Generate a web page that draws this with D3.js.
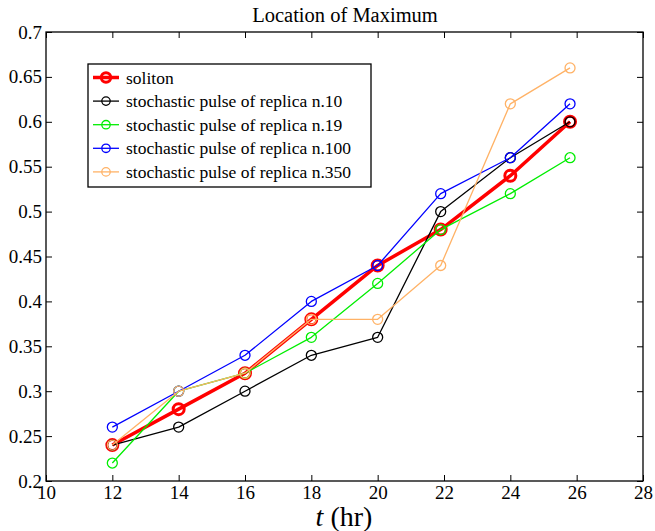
<!DOCTYPE html>
<html>
<head>
<meta charset="utf-8">
<script src="https://cdn.jsdelivr.net/npm/d3@7"></script>
<style>
  body { margin: 0; background: #fff; }
</style>
</head>
<body>
<div id="graph"></div>
<script>
// hours
const times = [12, 14, 16, 18, 20, 21.9, 24, 25.8];

const soliton   = [0.24, 0.28, 0.32, 0.38, 0.44, 0.48, 0.54, 0.60];
const replica10 = [0.24, 0.26, 0.30, 0.34, 0.36, 0.50, 0.56, 0.60];
const replica19 = [0.22, 0.30, 0.32, 0.36, 0.42, 0.48, 0.52, 0.56];
const replica100 = [0.26, 0.30, 0.34, 0.40, 0.44, 0.52, 0.56, 0.62];
const replica350 = [0.24, 0.30, 0.32, 0.38, 0.38, 0.44, 0.62, 0.66];

const seriesNames = ['soliton', 'stochastic pulse of replica n.10', 'stochastic pulse of replica n.19',
  'stochastic pulse of replica n.100', 'stochastic pulse of replica n.350'];
const xTicks = [10, 12, 14, 16, 18, 20, 22, 24, 26, 28];
const yTicks = [0.2, 0.25, 0.3, 0.35, 0.4, 0.45, 0.5, 0.55, 0.6, 0.65, 0.7];

const series = [
  {name: seriesNames[0], vals: soliton, color: '#ff0000', lw: 3.5, mw: 3, r: 5.5},
  {name: seriesNames[1], vals: replica10, color: '#000000', lw: 1.3, mw: 1.3, r: 5},
  {name: seriesNames[2], vals: replica19, color: '#00ee00', lw: 1.3, mw: 1.3, r: 5},
  {name: seriesNames[3], vals: replica100, color: '#0000ff', lw: 1.3, mw: 1.3, r: 5},
  {name: seriesNames[4], vals: replica350, color: '#ffb266', lw: 1.3, mw: 1.3, r: 5}
];

const FONT = '"Liberation Serif", "Times New Roman", serif';
const w = 655, h = 531;
const margin = {top: 32, right: 12, bottom: 50, left: 46};

const svg = d3.select('#graph').append('svg')
  .attr('width', w).attr('height', h)
  .style('font-family', FONT);

const xScale = d3.scaleLinear().domain([10, 28]).range([margin.left, w - margin.right]);
const yScale = d3.scaleLinear().domain([0.2, 0.7]).range([h - margin.bottom, margin.top]);

const fmt = d => String(+d.toFixed(2));

// axes, ticks pointing inward
svg.append('g').attr('transform', `translate(0,${h - margin.bottom})`)
  .call(d3.axisBottom(xScale).tickValues(xTicks).tickSizeInner(-6).tickSizeOuter(0).tickPadding(5))
  .call(g => g.select('.domain').remove())
  .selectAll('text').style('font-size', '19px').style('font-family', FONT).attr('fill', '#000');

svg.append('g').attr('transform', `translate(0,${margin.top})`)
  .call(d3.axisTop(xScale).tickValues(xTicks).tickSizeInner(-6).tickSizeOuter(0).tickFormat(''))
  .call(g => g.select('.domain').remove());

svg.append('g').attr('transform', `translate(${margin.left},0)`)
  .call(d3.axisLeft(yScale).tickValues(yTicks).tickSizeInner(-6).tickSizeOuter(0).tickPadding(4).tickFormat(fmt))
  .call(g => g.select('.domain').remove())
  .selectAll('text').style('font-size', '19px').style('font-family', FONT).attr('fill', '#000');

svg.append('g').attr('transform', `translate(${w - margin.right},0)`)
  .call(d3.axisRight(yScale).tickValues(yTicks).tickSizeInner(-6).tickSizeOuter(0).tickFormat(''))
  .call(g => g.select('.domain').remove());

svg.selectAll('.tick line').attr('stroke', '#000');

svg.append('rect')
  .attr('x', margin.left).attr('y', margin.top)
  .attr('width', w - margin.left - margin.right)
  .attr('height', h - margin.top - margin.bottom)
  .attr('fill', 'none').attr('stroke', '#000').attr('stroke-width', 1.3);

const line = d3.line().x((d, i) => xScale(times[i])).y(d => yScale(d));

series.forEach(s => {
  const g = svg.append('g');
  g.append('path').datum(s.vals)
    .attr('d', line)
    .attr('fill', 'none')
    .attr('stroke', s.color)
    .attr('stroke-width', s.lw)
    .attr('stroke-linejoin', 'round');
  g.selectAll('circle').data(s.vals).enter().append('circle')
    .attr('cx', (d, i) => xScale(times[i]))
    .attr('cy', d => yScale(d))
    .attr('r', s.r)
    .attr('fill', 'none')
    .attr('stroke', s.color)
    .attr('stroke-width', s.mw);
});

// legend
const lg = svg.append('g').attr('transform', 'translate(88,64)');
lg.append('rect').attr('width', 283).attr('height', 123)
  .attr('fill', '#fff').attr('stroke', '#000').attr('stroke-width', 1.3);
series.forEach((s, i) => {
  const y = 13.5 + i * 23.6;
  lg.append('line').attr('x1', 5).attr('x2', 31).attr('y1', y).attr('y2', y)
    .attr('stroke', s.color).attr('stroke-width', s.lw);
  lg.append('circle').attr('cx', 18).attr('cy', y).attr('r', s.r - 0.8)
    .attr('fill', 'none').attr('stroke', s.color).attr('stroke-width', s.mw);
  lg.append('text').attr('x', 38).attr('y', y).attr('dy', '0.35em')
    .style('font-size', '17.5px').text(s.name);
});

// title & label
svg.append('text').attr('x', 345).attr('y', 22)
  .attr('text-anchor', 'middle').style('font-size', '20.5px').text('Location of Maximum');

const xl = svg.append('text').attr('x', 344).attr('y', 526)
  .attr('text-anchor', 'middle').style('font-size', '28px');
xl.append('tspan').style('font-style', 'italic').text('t');
xl.append('tspan').text(' (hr)');
</script>
</body>
</html>
